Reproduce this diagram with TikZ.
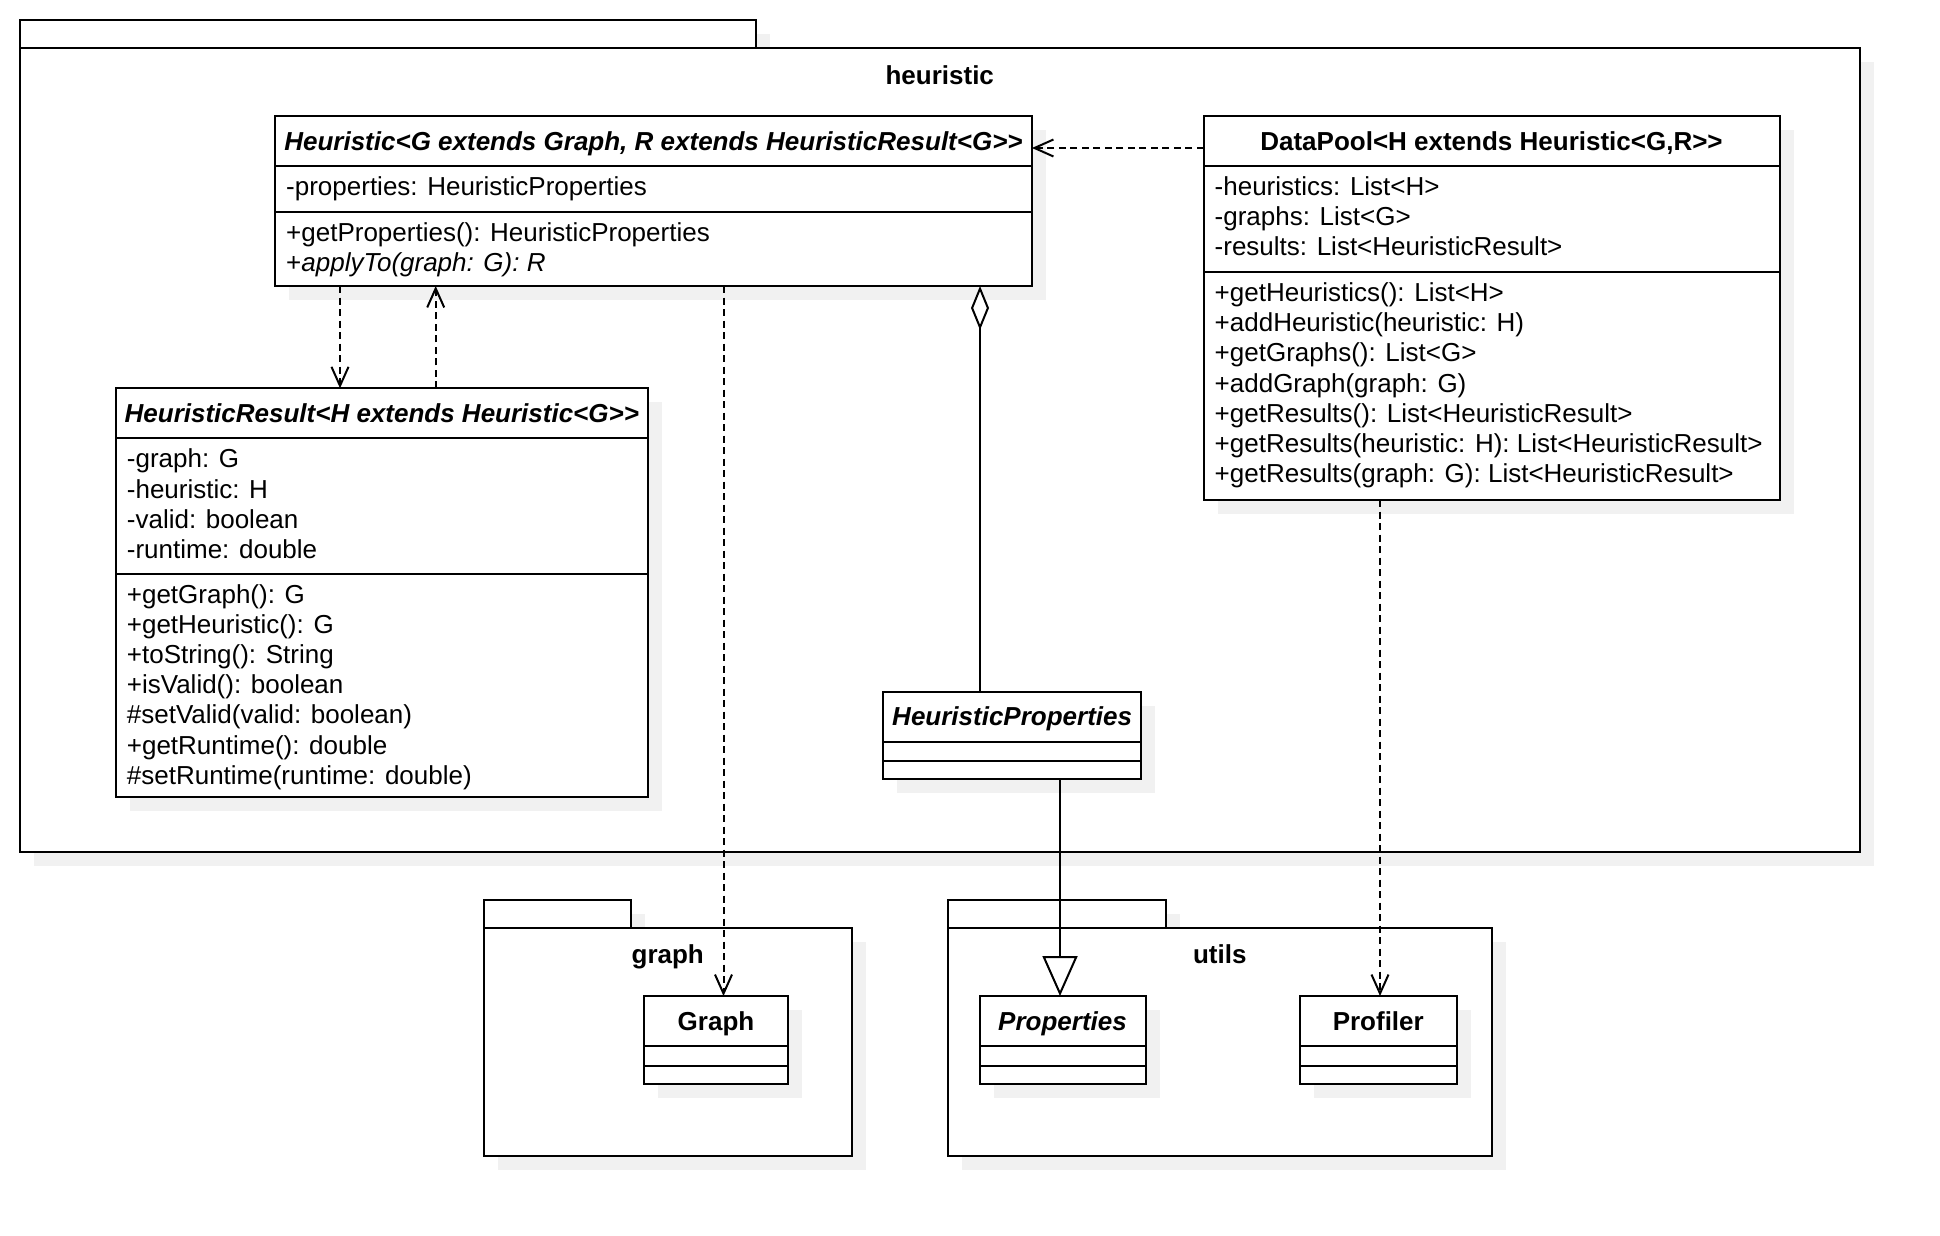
\documentclass[tikz,border=0pt]{standalone}
\usepackage{fontspec}
\setmainfont{Liberation Sans}
\usetikzlibrary{arrows.meta,shadows}
\definecolor{shadowc}{RGB}{241,241,241}

\tikzset{
  umlfont/.style={font=\fontsize{26}{30}\selectfont},
  boxshadow/.style={drop shadow={shadow xshift=14pt, shadow yshift=-14pt, fill=shadowc, opacity=1}},
  frame/.style={rectangle, draw, line width=2pt, fill=white, inner sep=0pt, outer sep=0pt,
                anchor=north west, boxshadow},
  divider/.style={line width=2pt},
  member/.style={anchor=base west, inner sep=0pt, umlfont},
  title/.style={anchor=base, inner sep=0pt, font=\fontsize{26}{30}\selectfont\bfseries},
  conn/.style={line width=2pt},
  dep/.style={conn, dash pattern=on 7pt off 4.5pt, -{Straight Barb[length=19pt, width=17pt]}},
  agg/.style={conn, {Diamond[fill=white, length=44pt, width=18pt]}-},
  gen/.style={conn, -{Triangle[fill=white, length=40pt, width=35pt]}},
}

% one text line of a class compartment: class, id, baseline offset from the top, text
\newcommand{\mline}[4]{\node[member] (#1-#2) at ([xshift=11pt,yshift=-#3pt]#1.north west) {#4};}
% horizontal compartment divider at an offset from the top of a class
\newcommand{\cdiv}[2]{\draw[divider] ([yshift=-#2pt]#1.north west) -- ([yshift=-#2pt]#1.north east);}

\begin{document}
\begin{tikzpicture}[x=1pt, y=-1pt]
\useasboundingbox (0,0) rectangle (1940,1236);
\fill[white] (0,0) rectangle (1940,1236);

% ---------------- packages ----------------
\node[frame, minimum width=736.5pt, minimum height=28pt] (hpkg-tab) at (19.5,20) {};
\node[frame, minimum width=1840.5pt, minimum height=804pt] (hpkg) at (19.5,48) {};
\node[title] (hpkg-name) at ([yshift=-36.5pt]hpkg.north) {heuristic};

\node[frame, minimum width=147pt, minimum height=28pt] (gpkg-tab) at (484,900) {};
\node[frame, minimum width=367.5pt, minimum height=227.5pt] (gpkg) at (484,928) {};
\node[title] (gpkg-name) at ([yshift=-35.5pt]gpkg.north) {graph};

\node[frame, minimum width=217.5pt, minimum height=28pt] (upkg-tab) at (948,900) {};
\node[frame, minimum width=543.5pt, minimum height=227.5pt] (upkg) at (948,928) {};
\node[title] (upkg-name) at ([yshift=-35.5pt]upkg.north) {utils};

% ---------------- Heuristic ----------------
\node[frame, minimum width=757pt, minimum height=170pt] (heur) at (275,116) {};
\cdiv{heur}{50}
\cdiv{heur}{96}
\node[title] (heur-t) at ([yshift=-34pt]heur.north) {\itshape Heuristic<G extends Graph, R extends HeuristicResult<G>{}>};
\mline{heur}{a1}{79.5}{-properties: HeuristicProperties}
\mline{heur}{m1}{125.5}{+getProperties(): HeuristicProperties}
\mline{heur}{m2}{155.7}{+\textit{applyTo(graph: G): R}}

% ---------------- DataPool ----------------
\node[frame, minimum width=576pt, minimum height=384pt] (dp) at (1203.5,116) {};
\cdiv{dp}{50}
\cdiv{dp}{156}
\node[title] (dp-t) at ([yshift=-34pt]dp.north) {DataPool<H extends Heuristic<G,R>{}>};
\mline{dp}{a1}{79.5}{-heuristics: List<H>}
\mline{dp}{a2}{109.7}{-graphs: List<G>}
\mline{dp}{a3}{139.9}{-results: List<HeuristicResult>}
\mline{dp}{m1}{185.5}{+getHeuristics(): List<H>}
\mline{dp}{m2}{215.7}{+addHeuristic(heuristic: H)}
\mline{dp}{m3}{245.9}{+getGraphs(): List<G>}
\mline{dp}{m4}{276.1}{+addGraph(graph: G)}
\mline{dp}{m5}{306.3}{+getResults(): List<HeuristicResult>}
\mline{dp}{m6}{336.5}{+getResults(heuristic: H): List<HeuristicResult>}
\mline{dp}{m7}{366.7}{+getResults(graph: G): List<HeuristicResult>}

% ---------------- HeuristicResult ----------------
\node[frame, minimum width=532.3pt, minimum height=408.7pt] (hres) at (115.7,388.3) {};
\cdiv{hres}{50}
\cdiv{hres}{185.3}
\node[title] (hres-t) at ([yshift=-34pt]hres.north) {\itshape HeuristicResult<H extends Heuristic<G>{}>};
\mline{hres}{a1}{79.5}{-graph: G}
\mline{hres}{a2}{109.7}{-heuristic: H}
\mline{hres}{a3}{139.9}{-valid: boolean}
\mline{hres}{a4}{170.1}{-runtime: double}
\mline{hres}{m1}{214.8}{+getGraph(): G}
\mline{hres}{m2}{245.0}{+getHeuristic(): G}
\mline{hres}{m3}{275.2}{+toString(): String}
\mline{hres}{m4}{305.4}{+isValid(): boolean}
\mline{hres}{m5}{335.6}{\#setValid(valid: boolean)}
\mline{hres}{m6}{365.8}{+getRuntime(): double}
\mline{hres}{m7}{396.0}{\#setRuntime(runtime: double)}

% ---------------- HeuristicProperties ----------------
\node[frame, minimum width=257.7pt, minimum height=87.7pt] (hprops) at (883.3,691.7) {};
\cdiv{hprops}{50}
\cdiv{hprops}{69.3}
\node[title] (hprops-t) at ([yshift=-34pt]hprops.north) {\itshape HeuristicProperties};

% ---------------- Graph ----------------
\node[frame, minimum width=144.6pt, minimum height=87.8pt] (graphc) at (643.7,996) {};
\cdiv{graphc}{49.7}
\cdiv{graphc}{69.7}
\node[title] (graphc-t) at ([yshift=-34pt]graphc.north) {Graph};

% ---------------- Properties ----------------
\node[frame, minimum width=166pt, minimum height=88pt] (props) at (979.5,996) {};
\cdiv{props}{49.7}
\cdiv{props}{69.7}
\node[title] (props-t) at ([yshift=-34pt]props.north) {\itshape Properties};

% ---------------- Profiler ----------------
\node[frame, minimum width=157.5pt, minimum height=88pt] (prof) at (1299.5,996) {};
\cdiv{prof}{49.7}
\cdiv{prof}{69.7}
\node[title] (prof-t) at ([yshift=-34pt]prof.north) {Profiler};

% ---------------- relations ----------------
\coordinate (c-dp) at ([yshift=-32pt]dp.north west);
\draw[dep] (c-dp) -- (c-dp -| heur.east);

\coordinate (c-use) at ([xshift=65pt]heur.south west);
\draw[dep] (c-use) -- (c-use |- hres.north);

\coordinate (c-back) at ([xshift=320pt]hres.north west);
\draw[dep] (c-back) -- (c-back |- heur.south);

\coordinate (c-graph) at ([xshift=448.5pt]heur.south west);
\draw[dep] (c-graph) -- (c-graph |- graphc.north);

\coordinate (c-agg) at ([xshift=705pt]heur.south west);
\draw[agg] (c-agg) -- (c-agg |- hprops.north);

\coordinate (c-gen) at ([xshift=176.7pt]hprops.south west);
\draw[gen] (c-gen) -- (c-gen |- props.north);

\coordinate (c-prof) at ([xshift=176.5pt]dp.south west);
\draw[dep] (c-prof) -- (c-prof |- prof.north);
\end{tikzpicture}
\end{document}
